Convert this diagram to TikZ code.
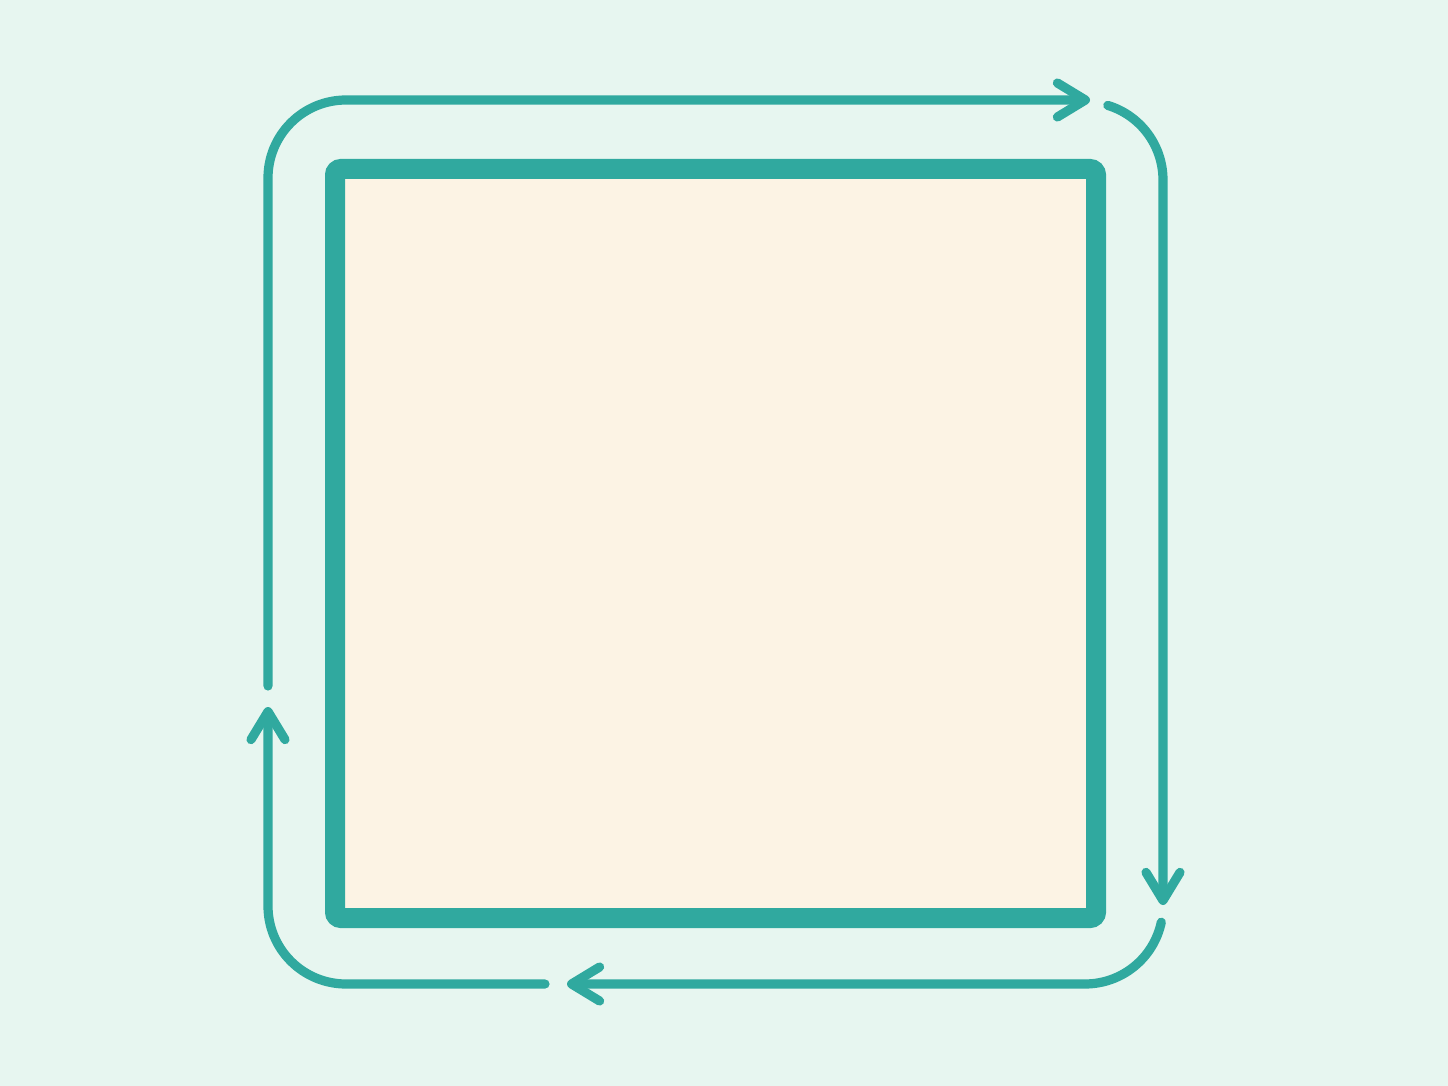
\documentclass[tikz,border=0pt]{standalone}
\usetikzlibrary{arrows.meta}
\definecolor{bgc}{HTML}{E7F6F0}
\definecolor{teal}{HTML}{30A99F}
\definecolor{cream}{HTML}{FCF3E4}
\begin{document}
\begin{tikzpicture}[x=0.5pt,y=-0.5pt,
  flow/.style={draw=teal,line width=4.6pt,line cap=round,line join=round},
  tipped/.style={flow,-{Straight Barb[length=14pt,width=17pt,round]}}]
\fill[bgc] (0,0) rectangle (1448,1086);
\useasboundingbox (0,0) rectangle (1448,1086);
% central square
\draw[teal,fill=cream,line width=10pt,rounded corners=3pt] (335,169) rectangle (1096,918);
% named coordinates
\coordinate (lTop) at (268,686);
\coordinate (tl) at (268,100);
\coordinate (tEnd) at (1090,100);
\coordinate (rStart) at ([shift={(73:39pt)}]1085,180);
\coordinate (rEnd) at (1163,905);
\coordinate (bStart) at ([shift={(-12:39pt)}]1085,906);
\coordinate (bEnd) at (567,984);
\coordinate (lStart) at (545,984);
\coordinate (bl) at (268,984);
\coordinate (lEnd) at (268,707);
% top segment
\draw[tipped,rounded corners=39pt] (lTop) -- (tl) -- (tEnd);
% right segment
\draw[tipped] (rStart) arc[start angle=73,end angle=0,radius=39pt] -- (rEnd);
% bottom segment
\draw[tipped] (bStart) arc[start angle=-12,end angle=-90,radius=39pt] -- (bEnd);
% left segment
\draw[tipped,rounded corners=39pt] (lStart) -- (bl) -- (lEnd);
\end{tikzpicture}
\end{document}
